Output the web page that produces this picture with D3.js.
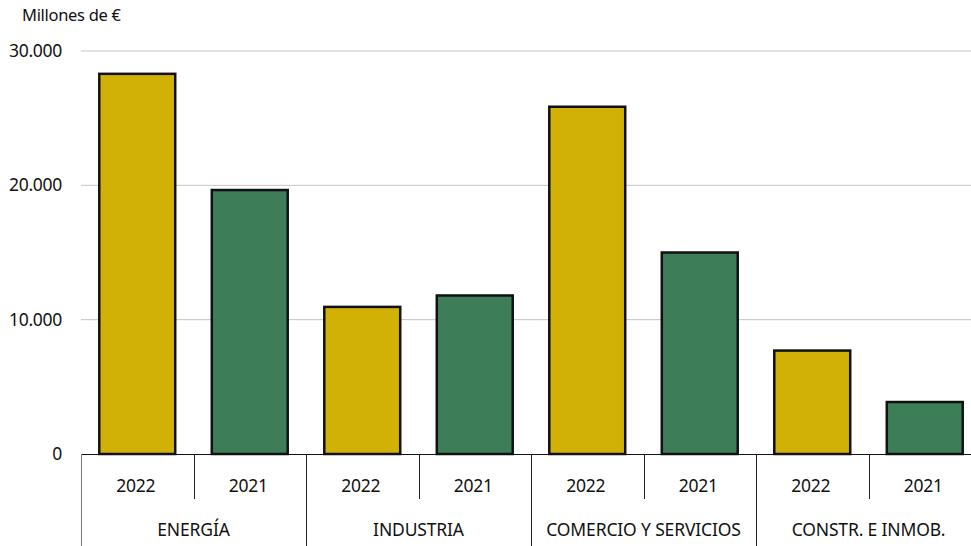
<!DOCTYPE html>
<html><head><meta charset="utf-8">
<script src="https://cdn.jsdelivr.net/npm/d3@7"></script>
<style>
body{margin:0;background:#fff;}
text{font-family:"Noto Sans","Open Sans",sans-serif;fill:#111;}
</style></head>
<body><svg id="c" width="971" height="546"></svg>
<script>
const groups = ["ENERGÍA","INDUSTRIA","COMERCIO Y SERVICIOS","CONSTR. E INMOB."];
const years = ["2022","2021"];
const values2022 = [28300, 10950, 25850, 7700];
const values2021 = [19650, 11800, 15000, 3870];
const yTicks = [0, 10000, 20000, 30000];
const yTickLabels = ["0","10.000","20.000","30.000"];
const unitLabel = "Millones de €";
const colors = {"2022":"#d1b106","2021":"#3d7d58"};

const data = [];
groups.forEach((g,i)=>{
  data.push({g, y:"2022", v: values2022[i]});
  data.push({g, y:"2021", v: values2021[i]});
});

const svg = d3.select("#c");
const x0 = 81, x1 = 981, yBase = 454, yTop = 51;
const keys = data.map(d=>d.g+"|"+d.y);
const x = d3.scaleBand().domain(keys).range([x0,x1]).paddingInner(0.325).paddingOuter(0.1625);
const xGroup = d3.scaleBand().domain(groups).range([x0,x1]);
const xSlot = d3.scaleBand().domain(keys).range([x0,x1]);
const y = d3.scaleLinear().domain([0,30000]).range([yBase,yTop]);

// gridlines
svg.append("g").selectAll("line").data(yTicks.filter(t=>t>0)).join("line")
  .attr("x1",x0).attr("x2",971).attr("y1",d=>y(d)).attr("y2",d=>y(d))
  .attr("stroke","#c4c4c4").attr("stroke-width",1);

// y labels
svg.append("g").selectAll("text").data(yTicks).join("text")
  .attr("x",62).attr("y",d=>y(d)).attr("dy","0.35em").attr("text-anchor","end")
  .attr("font-size",17.5).attr("letter-spacing","-0.3")
  .text((d,i)=>yTickLabels[i]);

svg.append("text").attr("x",22).attr("y",21).attr("font-size",16.5).attr("letter-spacing","-0.3").text(unitLabel);

// bars
svg.append("g").selectAll("rect").data(data).join("rect")
  .attr("x",d=>x(d.g+"|"+d.y)).attr("width",x.bandwidth())
  .attr("y",d=>y(d.v)).attr("height",d=>y(0)-y(d.v))
  .attr("fill",d=>colors[d.y]).attr("stroke","#111").attr("stroke-width",2.5);

// axis line
svg.append("line").attr("x1",x0).attr("x2",971).attr("y1",yBase+0.5).attr("y2",yBase+0.5).attr("stroke","#111").attr("stroke-width",1.2);

// subcategory ticks
const slotEdges = keys.filter((v,i)=>i%2===1).map(k=>xSlot(k));
svg.append("g").selectAll("line").data(slotEdges).join("line")
  .attr("x1",d=>Math.round(d)+0.5).attr("x2",d=>Math.round(d)+0.5).attr("y1",yBase).attr("y2",499)
  .attr("stroke","#222").attr("stroke-width",1);
// group dividers
svg.append("g").selectAll("line").data(groups).join("line")
  .attr("x1",d=>Math.round(xGroup(d))+0.5).attr("x2",d=>Math.round(xGroup(d))+0.5).attr("y1",yBase).attr("y2",546)
  .attr("stroke",(d,i)=>i===0?"#777":"#222").attr("stroke-width",1);

// year labels
svg.append("g").selectAll("text").data(data).join("text")
  .attr("x",d=>xSlot(d.g+"|"+d.y)+xSlot.bandwidth()/2 - 1.5)
  .attr("y",486).attr("dy","0.35em").attr("text-anchor","middle")
  .attr("font-size",17.5).attr("letter-spacing","-0.3").text(d=>d.y);

// group labels
svg.append("g").selectAll("text").data(groups).join("text")
  .attr("x",d=>xGroup(d)+xGroup.bandwidth()/2).attr("y",530).attr("dy","0.35em").attr("text-anchor","middle")
  .attr("font-size",17.5).attr("letter-spacing","-0.15").text(d=>d);
</script></body></html>
